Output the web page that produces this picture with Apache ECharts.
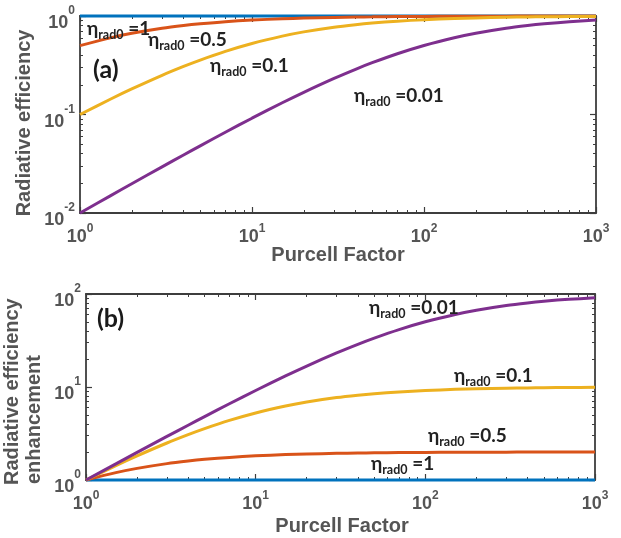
<!DOCTYPE html>
<html><head><meta charset="utf-8">
<script src="https://cdn.jsdelivr.net/npm/echarts@6/dist/echarts.min.js"></script>
<style>html,body{margin:0;padding:0;background:#fff;overflow:hidden}#c{width:621px;height:538px}</style>
</head><body><div id="c"></div>
<script>
// Purcell factor sample points
const purcell = [1,1.5,2,3,4,5,7,10,15,20,30,40,50,70,100,150,200,300,400,500,700,1000];
// (a) radiative efficiency
const eff_1   = [1,1,1,1,1,1,1,1,1,1,1,1,1,1,1,1,1,1,1,1,1,1];
const eff_05  = [0.5,0.6,0.667,0.75,0.8,0.833,0.875,0.909,0.9375,0.952,0.968,0.976,0.980,0.986,0.990,0.993,0.995,0.997,0.9975,0.998,0.9986,0.999];
const eff_01  = [0.1,0.1429,0.1818,0.25,0.3077,0.3571,0.4375,0.5263,0.625,0.6897,0.7692,0.8163,0.8475,0.8861,0.9174,0.9434,0.9569,0.9709,0.978,0.9823,0.9873,0.9911];
const eff_001 = [0.01,0.01493,0.0198,0.02941,0.03883,0.04808,0.06604,0.0917,0.1316,0.1681,0.2326,0.2878,0.3356,0.4142,0.5025,0.6024,0.6689,0.7519,0.8016,0.8347,0.8761,0.9099];
// (b) radiative efficiency enhancement
const enh_1   = [1,1,1,1,1,1,1,1,1,1,1,1,1,1,1,1,1,1,1,1,1,1];
const enh_05  = [1,1.2,1.333,1.5,1.6,1.667,1.75,1.818,1.875,1.905,1.935,1.951,1.961,1.972,1.980,1.987,1.990,1.993,1.995,1.996,1.997,1.998];
const enh_01  = [1,1.429,1.818,2.5,3.077,3.571,4.375,5.263,6.25,6.897,7.692,8.163,8.475,8.861,9.174,9.434,9.569,9.709,9.780,9.823,9.873,9.911];
const enh_001 = [1,1.493,1.98,2.941,3.883,4.808,6.604,9.174,13.16,16.81,23.26,28.78,33.56,41.42,50.25,60.24,66.89,75.19,80.16,83.47,87.61,90.99];
// tick values
const xMajor = [1,10,100,1000];
const xMinor = [2,3,4,5,6,7,8,9,20,30,40,50,60,70,80,90,200,300,400,500,600,700,800,900];
const yTopMajor = [0.01,0.1,1];
const yTopMinor = [0.02,0.03,0.04,0.05,0.06,0.07,0.08,0.09,0.2,0.3,0.4,0.5,0.6,0.7,0.8,0.9];
const yBotMajor = [1,10,100];
const yBotMinor = [2,3,4,5,6,7,8,9,20,30,40,50,60,70,80,90];
// curve labels
const curveLabels = ['=1','=0.5','=0.1','=0.01'];

const AX = '#3d3d3d', TXT = '#555555';
const COLORS = ['#0072BD','#D95319','#EDB120','#7E2F8E'];
const fmt = v => '{b|10}{s|' + Math.round(Math.log10(v)) + '}';
const xRich = {b:{fontSize:18,fontWeight:'bold',fontFamily:'Liberation Sans',color:TXT},
               s:{fontSize:12,fontWeight:'bold',fontFamily:'Liberation Sans',color:TXT,padding:[0,0,16,0]}};
const yRich = {b:{fontSize:18,fontWeight:'bold',fontFamily:'Liberation Sans',color:TXT,padding:[15,0,0,0]},
               s:{fontSize:12,fontWeight:'bold',fontFamily:'Liberation Sans',color:TXT,padding:[0,0,10,0]}};

function mkAxes(dim, grid, min, max, major, minor){
  const posA = dim==='x' ? 'bottom' : 'left', posB = dim==='x' ? 'top' : 'right';
  const base = {type:'log', logBase:10, min, max, gridIndex:grid, splitLine:{show:false}, z:3};
  const line = {show:true, lineStyle:{color:AX, width:1.8}};
  const out = [];
  [posA,posB].forEach((p,i)=>{
    out.push(Object.assign({}, base, {position:p, axisLine:line,
      axisTick:{show:true, inside:true, length:6, customValues:major, lineStyle:{color:AX,width:1.2}},
      axisLabel: (i===0) ? {show:true, customValues:major, formatter:fmt, rich: dim==='x'?xRich:yRich, margin: dim==='x'?10:5} : {show:false}
    }));
    out.push(Object.assign({}, base, {position:p, axisLine:{show:false},
      axisTick:{show:true, inside:true, length:3, customValues:minor, lineStyle:{color:AX,width:1}},
      axisLabel:{show:false}}));
  });
  return out;
}

const xAxis = [].concat(mkAxes('x',0,1,1000,xMajor,xMinor), mkAxes('x',1,1,1000,xMajor,xMinor));
const yAxis = [].concat(mkAxes('y',0,0.01,1,yTopMajor,yTopMinor), mkAxes('y',1,1,100,yBotMajor,yBotMinor));

function ser(vals, ci, grid){
  return {type:'line', xAxisIndex:grid*4, yAxisIndex:grid*4, data:purcell.map((x,i)=>[x,vals[i]]),
    showSymbol:false, smooth:0.3, clip:false, lineStyle:{color:COLORS[ci], width:3}, z:5, silent:true};
}
const series = [
  ser(eff_1,0,0), ser(eff_05,1,0), ser(eff_01,2,0), ser(eff_001,3,0),
  ser(enh_1,0,1), ser(enh_05,1,1), ser(enh_01,2,1), ser(enh_001,3,1)
];

const etaRich = {e:{fontSize:19,fontWeight:'bold',fontFamily:'Lato',fill:'#222'},
                 r:{fontSize:12.5,fontWeight:'bold',fontFamily:'Lato',fill:'#222',padding:[12,0,0,0]}};
function eta(txt, x, y){
  return {type:'text', x, y, z:10, style:{text:'{e|η}{r|rad0}{e| ' + txt + '}', rich:etaRich, align:'left', verticalAlign:'middle'}};
}
function title(txt, x, y, rot, align){
  return {type:'text', x, y, rotation:rot||0, z:10, style:{text:txt, fill:TXT, font:'bold 20px "Liberation Sans"', align:align||'center', verticalAlign:'middle'}};
}
const graphic = [
  eta(curveLabels[0], 87, 29), eta(curveLabels[1], 148, 40), eta(curveLabels[2], 210, 66), eta(curveLabels[3], 354, 96),
  eta(curveLabels[3], 369, 308), eta(curveLabels[2], 454, 376), eta(curveLabels[1], 428, 436), eta(curveLabels[0], 371, 464),
  {type:'text', x:93, y:70, z:10, style:{text:'(a)', fill:'#1a1a1a', font:'bold 25px Lato', align:'left', verticalAlign:'middle'}},
  {type:'text', x:97, y:319, z:10, style:{text:'(b)', fill:'#1a1a1a', font:'bold 25px Lato', align:'left', verticalAlign:'middle'}},
  title('Purcell Factor', 338, 255), title('Purcell Factor', 342, 526),
  title('Radiative efficiency', 24, 123, Math.PI/2),
  title('Radiative efficiency', 12, 485, Math.PI/2, 'left'),
  title('enhancement', 34, 484, Math.PI/2, 'left')
];

const chart = echarts.init(document.getElementById('c'), null, {renderer:'canvas'});
chart.setOption({
  animation:false,
  backgroundColor:'#fff',
  grid:[{left:80, top:16, width:516, height:197, containLabel:false},
        {left:86, top:294, width:509, height:186, containLabel:false}],
  xAxis, yAxis, series, graphic
});
</script></body></html>
